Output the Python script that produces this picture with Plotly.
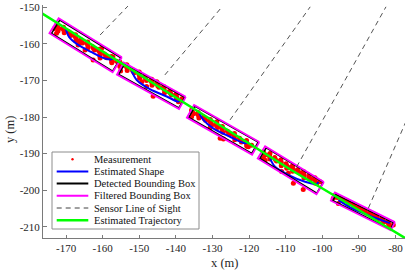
import math
import plotly.graph_objects as go

# ---------------- data ----------------
x_ticks = [-170, -160, -150, -140, -130, -120, -110, -100, -90, -80]
x_tick_labels = ["-170", "-160", "-150", "-140", "-130", "-120", "-110", "-100", "-90", "-80"]
y_ticks = [-150, -160, -170, -180, -190, -200, -210]
y_tick_labels = ["-150", "-160", "-170", "-180", "-190", "-200", "-210"]

# measurements (x, y) per vehicle
meas1_x = [-172.5, -172.0, -170.9, -170.5, -169.2, -168.7, -167.6, -167.3, -166.0, -165.5, -164.35,
           -164.0, -162.7, -162.2, -161.1, -160.8, -159.5, -158.9, -157.8, -157.5, -156.2,
           -170.7, -167.4, -164.1, -160.9, -157.6,
           -172.3, -170.6, -169.0, -167.4, -165.8, -164.1, -162.5, -160.8, -159.2, -157.6,
           -173.2, -172.6, -172.2, -167.1, -166.7, -166.2, -162.6, -160.7, -157.5, -157.2, -160.3, -164.8]
meas1_y = [-154.8, -155.8, -155.8, -157.0, -156.8, -157.7, -157.8, -159.2, -158.8, -159.8, -159.8,
           -161.1, -160.8, -161.7, -161.8, -163.2, -162.8, -163.8, -163.8, -165.2, -164.8,
           -155.5, -157.5, -159.5, -161.5, -163.5,
           -155.3, -156.3, -157.3, -158.3, -159.3, -160.3, -161.3, -162.3, -163.3, -164.3,
           -155.8, -157.1, -156.5, -159.0, -160.3, -159.8, -164.4, -163.9, -164.9, -163.6, -161.3, -161.7]
meas2_x = [-155.3, -154.8, -153.6, -153.3, -151.9, -151.4, -150.2, -149.9, -148.5, -148.0, -146.85,
           -146.5, -145.2, -144.6, -143.5, -143.1, -141.8, -141.2, -140.1, -139.7, -138.4,
           -153.4, -150.0, -146.6, -143.3, -139.9,
           -155.0, -153.4, -151.7, -150.0, -148.3, -146.6, -144.9, -143.2, -141.5, -139.8,
           -155.3, -155.1, -149.3, -148.0, -146.2, -139.8, -139.3, -141.6, -145.2]
meas2_y = [-165.0, -166.0, -166.0, -167.3, -167.0, -167.9, -168.0, -169.4, -169.0, -170.0, -170.0,
           -171.3, -171.0, -171.9, -172.0, -173.4, -173.0, -174.0, -174.0, -175.3, -175.0,
           -165.7, -167.7, -169.7, -171.7, -173.7,
           -165.5, -166.5, -167.5, -168.5, -169.5, -170.5, -171.5, -172.5, -173.5, -174.5,
           -166.2, -167.4, -170.4, -171.7, -174.3, -174.9, -175.8, -173.1, -170.4]
meas3_x = [-135.7, -135.2, -134.1, -133.7, -132.4, -131.9, -130.8, -130.5, -129.1, -128.6, -127.5,
           -127.2, -125.9, -125.3, -124.2, -123.9, -122.6, -122.1, -120.9, -120.6, -119.3,
           -133.9, -130.6, -127.3, -124.0, -120.7,
           -135.5, -133.8, -132.2, -130.5, -128.9, -127.3, -125.6, -124.0, -122.3, -120.7,
           -130.7, -130.2, -127.9, -127.0, -120.6, -120.2, -128.8, -135.7, -135.7]
meas3_y = [-178.1, -179.1, -179.1, -180.3, -180.0, -180.9, -181.0, -182.4, -181.9, -182.9, -182.9,
           -184.2, -183.9, -184.7, -184.8, -186.2, -185.8, -186.8, -186.7, -188.0, -187.7,
           -178.8, -180.7, -182.6, -184.5, -186.4,
           -178.6, -179.6, -180.5, -181.5, -182.4, -183.4, -184.3, -185.3, -186.2, -187.2,
           -183.1, -182.2, -185.8, -186.0, -187.7, -188.1, -181.3, -178.5, -179.9]
meas4_x = [-116.1, -115.6, -114.5, -114.3, -113.0, -112.5, -111.5, -111.2, -109.9, -109.4, -108.35,
           -108.1, -106.8, -106.3, -105.3, -105.0, -103.7, -103.2, -102.2, -101.9, -100.6,
           -114.3, -111.3, -108.1, -105.1, -102.0,
           -115.9, -114.4, -112.8, -111.2, -109.7, -108.1, -106.6, -105.0, -103.5, -101.9,
           -111.1, -109.3, -107.9, -105.2, -109.7, -116.1, -115.6, -101.5]
meas4_y = [-189.5, -190.4, -190.3, -191.5, -191.1, -192.0, -192.0, -193.3, -192.8, -193.7, -193.6,
           -194.8, -194.4, -195.2, -195.2, -196.6, -196.1, -197.0, -196.9, -198.1, -197.7,
           -190.0, -191.7, -193.3, -194.9, -196.6,
           -190.0, -190.8, -191.6, -192.4, -193.3, -194.1, -194.9, -195.7, -196.5, -197.3,
           -194.9, -195.4, -198.1, -199.8, -194.0, -191.3, -191.8, -198.1]
meas5_x = [-96.5, -95.9, -94.9, -94.4, -93.3, -92.7, -91.7, -91.2, -90.1, -89.5, -88.55,
           -88.1, -87.0, -86.4, -85.4, -84.9, -83.8, -83.2, -82.2, -81.7, -80.6,
           -96.2, -94.6, -93.0, -91.4, -89.8, -88.3, -86.7, -85.1, -83.5, -81.9,
           -97.0, -95.6]
meas5_y = [-201.3, -202.0, -202.1, -202.9, -202.9, -203.7, -203.8, -204.6, -204.6, -205.3, -205.4,
           -206.2, -206.2, -206.9, -207.0, -207.9, -207.9, -208.6, -208.7, -209.5, -209.5,
           -201.7, -202.5, -203.3, -204.1, -205.0, -205.8, -206.6, -207.4, -208.2, -209.1,
           -202.2, -203.6]

# estimated shape curves (x, y) per vehicle
shape1_x = [-170.1, -169.2, -166.7, -163.0, -159.4, -157.5, -157.1]
shape1_y = [-155.8, -158.1, -160.3, -162.3, -164.0, -164.2, -163.5]
shape2_x = [-152.1, -150.7, -147.1, -142.5, -139.3, -138.9]
shape2_y = [-167.4, -169.9, -172.4, -174.4, -175.8, -175.2]
shape3_x = [-133.6, -132.5, -129.8, -125.2, -121.1, -120.2]
shape3_y = [-179.0, -180.8, -183.1, -185.4, -187.2, -186.8]
shape4_x = [-114.3, -112.9, -109.3, -104.7, -101.5, -101.1]
shape4_y = [-191.3, -193.6, -195.8, -197.7, -198.3, -197.7]
shape5_x = [-95.6, -92.0, -87.0, -81.5]
shape5_y = [-202.7, -204.9, -207.0, -209.0]

# filtered bounding boxes: center, length, width, heading (deg)
filt_cx = [-164.65, -146.7, -127.1, -108.6, -88.9]
filt_cy = [-160.4, -171.45, -183.5, -194.55, -205.8]
filt_len = [20.3, 19.4, 20.5, 18.8, 18.3]
filt_wid = [4.8, 3.8, 4.0, 3.9, 2.5]
filt_hdg = [-31.7, -29.0, -29.6, -31.3, -26.3]

# detected bounding boxes
det_cx = [-164.5, -146.6, -127.0, -108.4, -88.8]
det_cy = [-160.5, -171.5, -183.5, -194.6, -205.9]
det_len = [19.6, 18.8, 19.8, 18.2, 17.6]
det_wid = [4.3, 3.3, 3.5, 3.4, 1.9]
det_hdg = [-31.7, -29.0, -29.6, -31.3, -26.3]

# sensor lines of sight
los_x0 = [-160.7, -143.0, -125.2, -107.0, -87.4]
los_y0 = [-157.6, -168.5, -180.8, -193.6, -204.9]
los_x1 = [-153.1, -127.4, -103.3, -82.6, -76.0]
los_y1 = [-149.7, -149.9, -149.9, -149.9, -178.6]

# estimated trajectory
traj_x = [-178.0, -164.6, -146.7, -127.1, -108.6, -88.9, -75.0]
traj_y = [-150.8, -159.2, -170.5, -182.6, -194.4, -206.1, -214.5]

legend_labels = ["Measurement", "Estimated Shape", "Detected Bounding Box",
                 "Filtered Bounding Box", "Sensor Line of Sight", "Estimated Trajectory"]

# ---------------- helpers ----------------
def boxes_xy(cx, cy, ln, wd, hdg):
    xs, ys = [], []
    for i in range(len(cx)):
        a = math.radians(hdg[i])
        ux, uy = math.cos(a), math.sin(a)
        vx, vy = -uy, ux
        hl, hw = ln[i] / 2, wd[i] / 2
        pts = [(hl, hw), (hl, -hw), (-hl, -hw), (-hl, hw), (hl, hw)]
        for s, t in pts:
            xs.append(cx[i] + s * ux + t * vx)
            ys.append(cy[i] + s * uy + t * vy)
        xs.append(None)
        ys.append(None)
    return xs, ys


def join(*arrs):
    out = []
    for a in arrs:
        out += list(a) + [None]
    return out

FONT = "Liberation Serif"
RED = "#ff0000"
BLUE = "#0000ff"
MAG = "#ff00ff"
GREEN = "#00ff00"
DASH = "#404040"

fig = go.Figure()

meas_x = meas1_x + meas2_x + meas3_x + meas4_x + meas5_x
meas_y = meas1_y + meas2_y + meas3_y + meas4_y + meas5_y
fig.add_trace(go.Scatter(x=meas_x, y=meas_y, mode="markers", name=legend_labels[0],
                         marker=dict(color=RED, size=5, line=dict(width=0))))

fig.add_trace(go.Scatter(x=join(shape1_x, shape2_x, shape3_x, shape4_x, shape5_x),
                         y=join(shape1_y, shape2_y, shape3_y, shape4_y, shape5_y),
                         mode="lines", name=legend_labels[1],
                         line=dict(color=BLUE, width=2, shape="spline", smoothing=0.8)))

dx, dy = boxes_xy(det_cx, det_cy, det_len, det_wid, det_hdg)
fig.add_trace(go.Scatter(x=dx, y=dy, mode="lines", name=legend_labels[2],
                         line=dict(color="black", width=1.5)))

fx, fy = boxes_xy(filt_cx, filt_cy, filt_len, filt_wid, filt_hdg)
fig.add_trace(go.Scatter(x=fx, y=fy, mode="lines", name=legend_labels[3],
                         line=dict(color=MAG, width=1.8)))

lx, ly = [], []
for i in range(len(los_x0)):
    lx += [los_x0[i], los_x1[i], None]
    ly += [los_y0[i], los_y1[i], None]
fig.add_trace(go.Scatter(x=lx, y=ly, mode="lines", name=legend_labels[4],
                         line=dict(color=DASH, width=0.9, dash="5px,4px")))

fig.add_trace(go.Scatter(x=traj_x, y=traj_y, mode="lines", name=legend_labels[5],
                         line=dict(color=GREEN, width=2.5)))

# ---------------- manual legend + axis titles ----------------
PL, PR, PT, PB = 43, 405, 5, 238
W, H = PR - PL, PB - PT

def px(p):
    return (p - PL) / W

def py(p):
    return (PB - p) / H

shapes = [dict(type="rect", xref="paper", yref="paper", x0=px(52), x1=px(199), y0=py(229), y1=py(152),
               line=dict(color="#8c8c8c", width=1), fillcolor="white", layer="above")]
annotations = []
row_y = [159.2, 171.4, 183.6, 195.8, 208.0, 220.2]
sym_styles = [None,
              dict(color=BLUE, width=2),
              dict(color="black", width=2),
              dict(color=MAG, width=2),
              dict(color=DASH, width=1, dash="5px,4px"),
              dict(color=GREEN, width=2.5)]
for i, lab in enumerate(legend_labels):
    yy = py(row_y[i])
    if i == 0:
        shapes.append(dict(type="circle", xref="paper", yref="paper",
                           x0=px(71.3), x1=px(73.7), y0=py(row_y[i] + 1.2), y1=py(row_y[i] - 1.2),
                           line=dict(color=RED, width=0), fillcolor=RED, layer="above"))
    else:
        shapes.append(dict(type="line", xref="paper", yref="paper", x0=px(56.7), x1=px(88.3),
                           y0=yy, y1=yy, line=sym_styles[i], layer="above"))
    annotations.append(dict(xref="paper", yref="paper", x=px(91.5), y=yy, text=lab, showarrow=False,
                            xanchor="left", yanchor="middle",
                            font=dict(family=FONT, size=10.5, color="#111111")))

annotations.append(dict(xref="paper", yref="paper", x=px(224), y=py(263), text="x (m)", showarrow=False,
                        xanchor="center", yanchor="middle",
                        font=dict(family=FONT, size=12.5, color="#262626")))
annotations.append(dict(xref="paper", yref="paper", x=px(10), y=py(130), text="y (m)", showarrow=False,
                        xanchor="center", yanchor="middle", textangle=-90,
                        font=dict(family=FONT, size=12.5, color="#262626")))

axis_common = dict(showgrid=False, zeroline=False, showline=True, linecolor="#7a7a7a", linewidth=1,
                   ticks="inside", ticklen=3.5, tickcolor="#7a7a7a", tickwidth=1, automargin=False,
                   tickfont=dict(family=FONT, size=11, color="#262626"), mirror=False)

fig.update_layout(
    width=407, height=273,
    margin=dict(l=PL, r=407 - PR, t=PT, b=273 - PB),
    paper_bgcolor="white", plot_bgcolor="white",
    showlegend=False,
    shapes=shapes, annotations=annotations,
    xaxis=dict(range=[-176.3, -77.4], tickvals=x_ticks, ticktext=x_tick_labels, **axis_common),
    yaxis=dict(range=[-213.06, -149.4], tickvals=y_ticks, ticktext=y_tick_labels, **axis_common),
)

fig.write_html("out.html", config={"displayModeBar": False},
               post_script="document.body.style.margin='0px';")
